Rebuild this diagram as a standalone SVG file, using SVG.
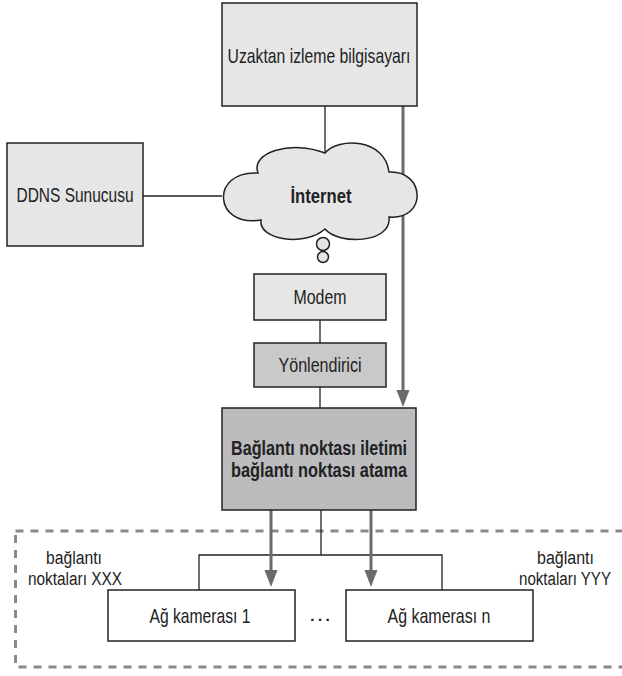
<svg xmlns="http://www.w3.org/2000/svg" width="622" height="676" viewBox="0 0 622 676">
<defs>
<style>
.box{stroke:#222;stroke-width:1.5}
.l1{fill:#e6e6e7}
.l2{fill:#c9c9ca}
.l3{fill:#bcbcbe}
.w{fill:#fff}
.ln{stroke:#222;stroke-width:1.3;fill:none}
.ga{stroke:#6b6b6b;stroke-width:3;fill:none}
.ah{fill:#6b6b6b}
.t{font-family:"Liberation Sans",Arial,sans-serif;font-size:21px;fill:#222;text-anchor:middle}
.b{font-weight:bold;font-size:20px}
.s{font-size:18px}
.e{text-anchor:end}
.dash{stroke:#8a8a8a;stroke-width:3;fill:none;stroke-dasharray:8 7}
</style>
</defs>
<rect x="15.5" y="531" width="620" height="136" class="dash"/>
<g id="connectors">
<line x1="325" y1="106" x2="325" y2="153" class="ln"/>
<line x1="143" y1="196" x2="222" y2="196" class="ln"/>
<line x1="320" y1="320" x2="320" y2="343" class="ln"/>
<line x1="320" y1="387" x2="320" y2="408" class="ln"/>
<polyline points="321,510 321,555" class="ln"/>
<polyline points="199,590 199,555 442,555 442,590" class="ln"/>
<path d="M403,106 V391" class="ga"/>
<path d="M396.5,390 L403,407 L409.5,390 Z" class="ah"/>
<path d="M271,510 V572" class="ga"/>
<path d="M264.5,570 L271,587 L277.5,570 Z" class="ah"/>
<path d="M371,510 V572" class="ga"/>
<path d="M364.5,570 L371,587 L377.5,570 Z" class="ah"/>
</g>
<g id="remote">
<rect x="222" y="3" width="195" height="103" class="box l1"/>
<text x="319" y="63" class="t" textLength="183" lengthAdjust="spacingAndGlyphs">Uzaktan izleme bilgisayarı</text>
</g>
<g id="ddns">
<rect x="7" y="143" width="136" height="103" class="box l1"/>
<text x="75" y="202" class="t" textLength="117" lengthAdjust="spacingAndGlyphs">DDNS Sunucusu</text>
</g>
<g id="internet">
<path d="M258,173 C250,152 292,140 325,153 C338,137 385,138 389,172 C425,170 428,220 389,217 C392,244 338,245 325,229 C305,247 258,240 261,220 C213,228 210,170 258,173 Z" class="box l1"/>
<text x="321" y="203" class="t b" textLength="61" lengthAdjust="spacingAndGlyphs">İnternet</text>
<circle cx="323" cy="244" r="6.5" class="box l1"/>
<circle cx="323" cy="257" r="5.5" class="box l1"/>
</g>
<g id="modem">
<rect x="254" y="274" width="132" height="46" class="box l1"/>
<text x="320" y="304" class="t" textLength="53" lengthAdjust="spacingAndGlyphs">Modem</text>
</g>
<g id="router">
<rect x="254" y="343" width="132" height="44" class="box l2"/>
<text x="320" y="372" class="t" textLength="83" lengthAdjust="spacingAndGlyphs">Yönlendirici</text>
</g>
<g id="portfwd">
<rect x="222" y="408" width="194" height="102" class="box l3"/>
<text x="319" y="455" class="t b" textLength="176" lengthAdjust="spacingAndGlyphs">Bağlantı noktası iletimi</text>
<text x="319" y="477" class="t b" textLength="176" lengthAdjust="spacingAndGlyphs">bağlantı noktası atama</text>
</g>
<g id="cam1">
<rect x="108" y="590" width="187" height="51" class="box w"/>
<text x="200" y="623" class="t" textLength="101" lengthAdjust="spacingAndGlyphs">Ağ kamerası 1</text>
</g>
<g id="camn">
<rect x="346" y="590" width="187" height="51" class="box w"/>
<text x="439" y="623" class="t" textLength="103" lengthAdjust="spacingAndGlyphs">Ağ kamerası n</text>
</g>
<g id="dots">
<text x="320" y="621" class="t" textLength="24" lengthAdjust="spacingAndGlyphs">…</text>
</g>
<g id="labelXXX">
<text x="74" y="564" class="t s" textLength="56" lengthAdjust="spacingAndGlyphs">bağlantı</text>
<text x="75" y="585" class="t s" textLength="94" lengthAdjust="spacingAndGlyphs">noktaları XXX</text>
</g>
<g id="labelYYY">
<text x="594" y="564" class="t s e" textLength="57" lengthAdjust="spacingAndGlyphs">bağlantı</text>
<text x="611" y="585" class="t s e" textLength="92" lengthAdjust="spacingAndGlyphs">noktaları YYY</text>
</g>
</svg>
